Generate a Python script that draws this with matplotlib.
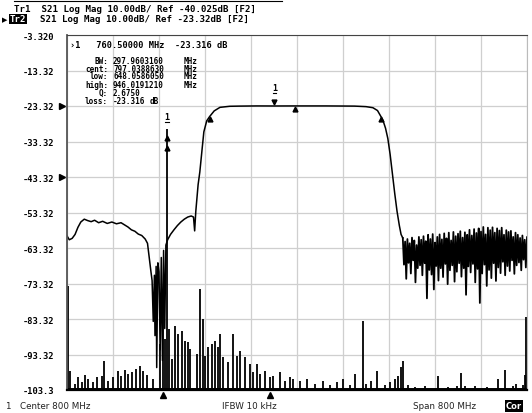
import numpy as np
import matplotlib.pyplot as plt
from matplotlib.transforms import blended_transform_factory

W, H = 532, 414

# analyzer screen: 800 MHz span around 800 MHz, 10 dB/div
f_start, f_stop = 400, 1200
top_db, bottom_db = -3.32, -103.32
y_levels = [-3.32, -13.32, -23.32, -33.32, -43.32, -53.32, -63.32, -73.32, -83.32, -93.32, -103.32]
y_labels = ["-3.320", "-13.32", "-23.32", "-33.32", "-43.32", "-53.32",
            "-63.32", "-73.32", "-83.32", "-93.32", "-103.3"]

# Tr1 filter response (MHz, dB)
tr1_freq = [400, 404, 409, 414, 419, 424, 430, 436, 442, 448, 455, 462, 470, 478, 486,
            494, 500, 506, 512, 518, 524, 530, 536, 540, 543, 546, 548, 550, 552, 553,
            555, 556, 558, 560, 562, 564, 566, 568, 570, 572, 575, 580, 586, 592, 598,
            604, 610, 616, 620, 622, 624, 628, 631, 635, 638, 643, 648, 656, 666, 683,
            700, 730, 760.5, 800, 850, 900, 920, 932, 940, 946, 950, 954, 958, 962,
            966, 970, 974, 978, 981, 984]
tr1_db = [-59.9, -61.0, -60.6, -59.5, -57.5, -56.0, -55.2, -55.6, -55.9, -55.5, -56.2,
          -55.8, -56.4, -56.0, -56.5, -56.2, -56.8, -57.4, -58.2, -58.6, -59.4, -59.8,
          -60.8, -62.0, -66.0, -70.0, -72.5, -84.0, -71.0, -88.0, -68.5, -97.0, -67.5,
          -70.0, -92.0, -66.0, -95.0, -64.0, -86.0, -62.5, -61.0, -59.5, -58.2, -57.0,
          -56.0, -55.2, -54.6, -54.3, -54.6, -58.5, -53.0, -45.5, -41.9, -35.4, -30.6,
          -27.5, -26.3, -24.7, -23.7, -23.4, -23.35, -23.3, -23.316, -23.3, -23.3,
          -23.35, -23.5, -23.8, -24.6, -26.3, -27.6, -29.6, -32.5, -37.0, -42.5, -48.0,
          -53.0, -57.0, -59.5, -60.5]

# Tr1 stopband noise above the upper skirt, every 4 MHz from 984 MHz
noise_freq = np.arange(984, 1201, 4)
noise_top = [-60.5, -61.5, -60.8, -62.0, -60.4, -61.2, -62.5, -60.2, -61.0, -60.0,
             -61.4, -59.6, -60.8, -59.4, -61.8, -60.2, -59.5, -60.9, -59.2, -60.6,
             -59.0, -61.2, -58.8, -60.0, -59.3, -58.6, -60.4, -58.9, -59.6, -58.2,
             -59.8, -58.0, -59.1, -57.8, -58.7, -57.4, -59.5, -57.6, -58.3, -57.5,
             -59.0, -57.8, -58.4, -57.6, -59.6, -58.3, -58.8, -58.5, -60.2, -59.0,
             -59.6, -60.5, -59.8, -61.0, -60.2]
noise_bot = [-68.0, -72.0, -67.5, -70.5, -66.8, -73.0, -69.0, -68.2, -71.0, -67.6,
             -77.5, -69.5, -70.8, -75.0, -68.4, -72.5, -69.0, -71.5, -67.8, -73.5,
             -69.6, -68.2, -72.8, -70.0, -67.6, -71.4, -69.0, -76.5, -68.5, -70.2,
             -67.8, -73.0, -69.2, -78.8, -70.5, -68.0, -74.0, -69.5, -71.8, -67.6,
             -72.6, -68.8, -70.4, -67.2, -71.0, -68.4, -69.8, -66.8, -70.6, -68.2,
             -67.4, -69.6, -66.6, -68.8, -67.0]

# Tr2 sits on the bottom of the screen, only its spikes show
tr2_freq = [401.7, 405, 414, 419, 426, 431, 437, 445, 452, 461, 464, 471, 480, 489, 494,
            501, 506, 513, 520, 527, 532, 539, 550, 562, 567, 570, 574, 577, 583, 588,
            593, 600, 605, 610, 614, 626, 631, 637, 640, 645, 652, 657, 663, 666, 671,
            680, 689, 696, 701, 710, 718, 723, 730, 736, 744, 753, 758, 770, 779, 788,
            793, 805, 817, 831, 845, 857, 870, 880, 892, 901, 915, 920, 929, 939, 953,
            962, 970, 976, 981, 984, 993, 1005, 1023, 1045, 1063, 1078, 1085, 1092,
            1110, 1130, 1150, 1162, 1176, 1181, 1193, 1197, 1198]
tr2_db = [-74.0, -97.9, -101.6, -99.7, -101.1, -99.1, -100.2, -101.1, -99.7, -99.4,
          -95.2, -100.8, -99.7, -98.0, -99.4, -97.7, -98.8, -98.3, -97.4, -96.6, -98.0,
          -99.1, -100.2, -90.4, -77.7, -89.0, -29.8, -86.1, -94.6, -85.3, -87.5, -86.7,
          -89.5, -89.8, -91.8, -93.2, -74.9, -83.3, -93.7, -91.2, -90.4, -89.5, -91.2,
          -87.5, -94.0, -95.4, -87.5, -93.7, -92.3, -94.0, -96.0, -98.3, -96.0, -98.8,
          -98.0, -99.7, -99.4, -98.3, -100.8, -99.7, -100.2, -100.8, -100.2, -101.6,
          -100.8, -101.9, -101.1, -100.2, -101.9, -98.8, -83.9, -101.6, -100.8, -98.0,
          -101.9, -101.1, -100.2, -99.4, -96.8, -95.2, -101.9, -102.5, -102.2, -99.4,
          -102.5, -102.2, -98.5, -102.2, -102.2, -102.5, -100.2, -97.7, -102.2, -101.6,
          -101.9, -99.1, -82.8]

# marker readout (bandwidth search on Tr1)
mk_freq, mk_db = 760.5, -23.316
bw_labels = ["BW:", "cent:", "low:", "high:", "Q:", "loss:"]
bw_values = ["297.9603160", "797.0388630", "648.0586050", "946.0191210", "2.6750", "-23.316"]
bw_units = ["MHz", "MHz", "MHz", "MHz", "", "dB"]
bw_freq = [648.0586050, 797.0388630, 946.0191210]
tr2_mk_freq = [567, 753]


def px(x, y):
    return x / W, 1 - y / H


mono = "DejaVu Sans Mono"
fig = plt.figure(figsize=(W / 100, H / 100), dpi=100)
ax = fig.add_axes([67 / W, 1 - 391 / H, 460 / W, 355 / H])

ax.set_xlim(f_start, f_stop)
ax.set_ylim(bottom_db, top_db)
ax.set_xticks(np.arange(f_start, f_stop + 1, 80))
ax.set_yticks(y_levels)
ax.set_xticklabels([])
ax.set_yticklabels(y_labels, family=mono, fontsize=6.3, fontweight="bold")
ax.tick_params(length=0, pad=9)
ax.grid(True, color="#cfcfcf", lw=0.9)
ax.set_axisbelow(True)
for side, c, w in [("left", "#555555", 1.3), ("bottom", "black", 1.6),
                   ("top", "#444444", 0.8), ("right", "#bbbbbb", 0.8)]:
    ax.spines[side].set_color(c)
    ax.spines[side].set_linewidth(w)

# Tr2 spikes from the floor
ax.vlines(tr2_freq, bottom_db, tr2_db, color="black", lw=1.3)
ax.plot([f_start, f_stop], [bottom_db + 0.4, bottom_db + 0.4], color="black", lw=1.4)

# Tr1
ax.plot(tr1_freq, tr1_db, color="black", lw=1.1)
zf = np.empty(2 * len(noise_freq))
zf[0::2] = noise_freq
zf[1::2] = noise_freq + 2
zv = np.empty(2 * len(noise_freq))
zv[0::2] = noise_top
zv[1::2] = noise_bot
ax.plot(np.concatenate([[tr1_freq[-1]], zf]), np.concatenate([[tr1_db[-1]], zv]),
        color="black", lw=1.3)

# bandwidth markers on Tr1
bw_db = np.interp(bw_freq, tr1_freq, tr1_db)
ax.plot(bw_freq, bw_db - 0.8, "^", color="black", ms=3.5)
ax.plot(mk_freq, mk_db + 1.2, "v", color="black", ms=3.5)
ax.text(mk_freq, mk_db + 4.0, "1", ha="center", va="bottom", family=mono,
        fontsize=6, fontweight="bold")
ax.plot([mk_freq - 3, mk_freq + 3], [mk_db + 3.6] * 2, color="black", lw=0.8)

# Tr2 marker on the spike
ax.text(574, -27.5, "1", ha="center", va="bottom", family=mono, fontsize=6,
        fontweight="bold")
ax.plot([571, 577], [-27.9] * 2, color="black", lw=0.8)
ax.plot([574, 574], [-32.3, -35.2], "^", color="black", ms=3.5)

# Tr2 markers below the screen
ax.plot(tr2_mk_freq, [bottom_db - 1.4] * 2, "^", color="black", ms=4, clip_on=False)

# reference position arrows
tr = blended_transform_factory(ax.transAxes, ax.transData)
ax.plot([-0.011, -0.011], [-23.32, -43.32], ">", color="black", ms=5,
        transform=tr, clip_on=False)

# marker readout block
rd = dict(family=mono, fontsize=5.5, fontweight="bold", va="center")
fig.text(*px(70, 45), "\u203a1   760.50000 MHz  -23.316 dB", fontsize=6.2,
         family=mono, fontweight="bold", va="center")
ys = [61, 69, 77, 85, 93, 101]
for y, lab, val, unit in zip(ys, bw_labels, bw_values, bw_units):
    fig.text(*px(108, y), lab, ha="right", **rd)
    fig.text(*px(113, y), val, **rd)
    if unit == "MHz":
        fig.text(*px(184, y), unit, **rd)
    elif unit:
        fig.text(*px(150, y), unit, **rd)

# channel header
fig.text(*px(14, 10), "Tr1  S21 Log Mag 10.00dB/ Ref -40.025dB [F2]", family=mono,
         fontsize=6.6, fontweight="bold", va="center")
fig.text(*px(2, 20), "\u25b6", family="DejaVu Sans", fontsize=5, va="center")
fig.text(*px(10, 20), "Tr2", family=mono, fontsize=6.6, fontweight="bold",
         va="center", color="white",
         bbox=dict(facecolor="black", edgecolor="none", pad=0.6))
fig.text(*px(40, 20), "S21 Log Mag 10.00dB/ Ref -23.32dB [F2]", family=mono,
         fontsize=6.6, fontweight="bold", va="center")
fig.add_artist(plt.Line2D([14 / W, 282 / W], [1 - 1.5 / H] * 2, color="black", lw=0.8))

# status bar
sb = dict(family="DejaVu Sans", fontsize=6.3, va="center", color="#222222")
fig.text(*px(5, 407), "1", **sb)
fig.text(*px(20, 407), "Center 800 MHz", **sb)
fig.text(*px(222, 407), "IFBW 10 kHz", **sb)
fig.text(*px(413, 407), "Span 800 MHz", **sb)
fig.text(*px(506, 407), "Cor", family="DejaVu Sans", fontsize=6, va="center",
         color="white", fontweight="bold",
         bbox=dict(facecolor="black", edgecolor="none", pad=0.8))

fig.savefig("out.png", dpi=100)
